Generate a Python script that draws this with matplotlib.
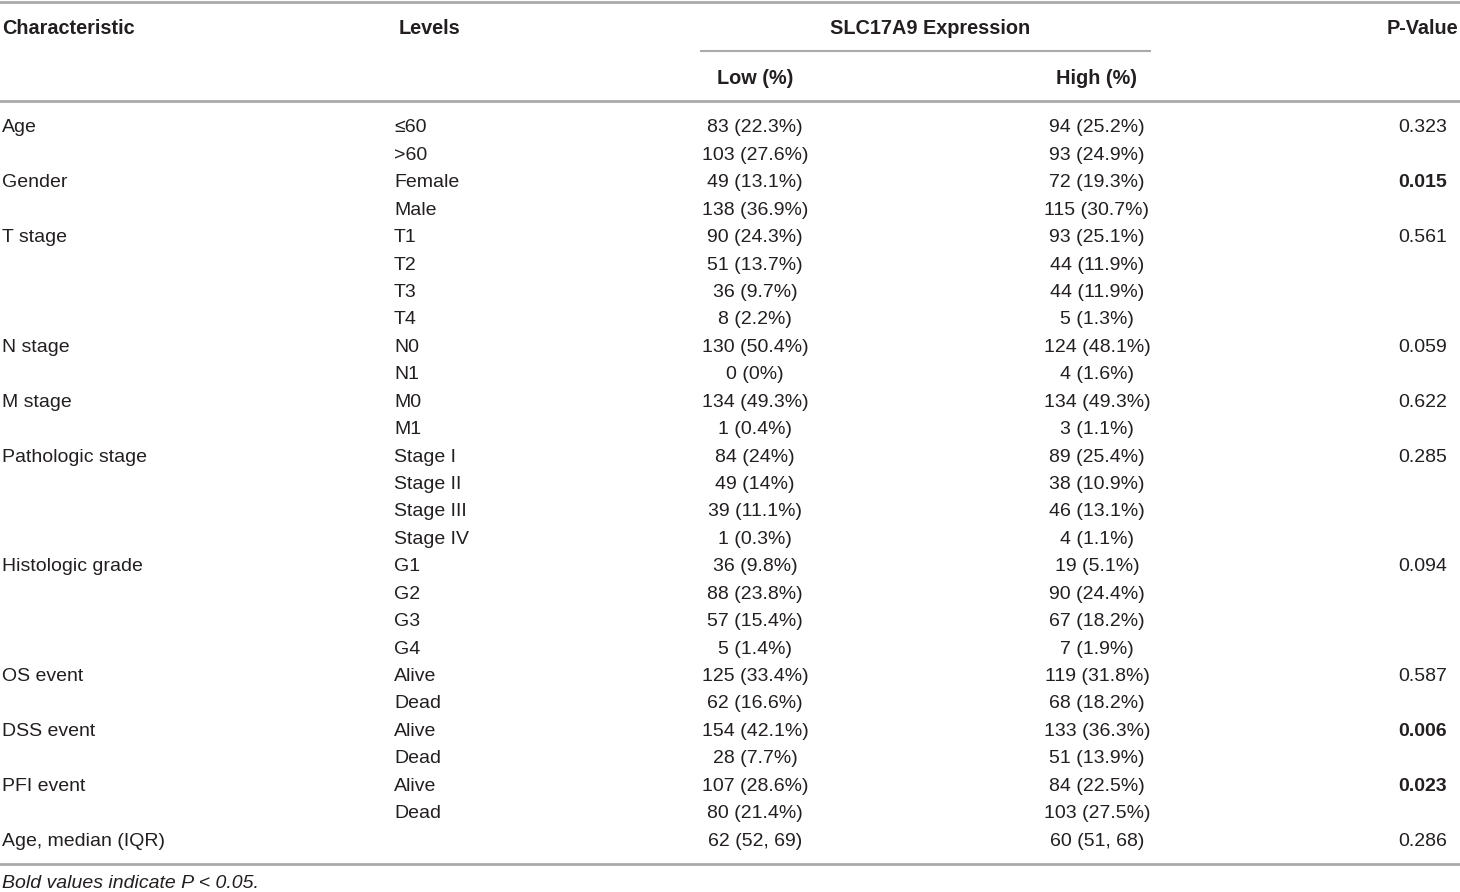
import matplotlib.pyplot as plt

plt.rcParams['font.family'] = ['Liberation Sans', 'DejaVu Sans']

characteristics = ['Age', '', 'Gender', '', 'T stage', '', '', '', 'N stage', '', 'M stage', '',
                   'Pathologic stage', '', '', '', 'Histologic grade', '', '', '', 'OS event', '',
                   'DSS event', '', 'PFI event', '', 'Age, median (IQR)']
levels = ['≤60', '>60', 'Female', 'Male', 'T1', 'T2', 'T3', 'T4', 'N0', 'N1', 'M0', 'M1',
          'Stage I', 'Stage II', 'Stage III', 'Stage IV', 'G1', 'G2', 'G3', 'G4',
          'Alive', 'Dead', 'Alive', 'Dead', 'Alive', 'Dead', '']
low = ['83 (22.3%)', '103 (27.6%)', '49 (13.1%)', '138 (36.9%)', '90 (24.3%)', '51 (13.7%)',
       '36 (9.7%)', '8 (2.2%)', '130 (50.4%)', '0 (0%)', '134 (49.3%)', '1 (0.4%)',
       '84 (24%)', '49 (14%)', '39 (11.1%)', '1 (0.3%)', '36 (9.8%)', '88 (23.8%)',
       '57 (15.4%)', '5 (1.4%)', '125 (33.4%)', '62 (16.6%)', '154 (42.1%)', '28 (7.7%)',
       '107 (28.6%)', '80 (21.4%)', '62 (52, 69)']
high = ['94 (25.2%)', '93 (24.9%)', '72 (19.3%)', '115 (30.7%)', '93 (25.1%)', '44 (11.9%)',
        '44 (11.9%)', '5 (1.3%)', '124 (48.1%)', '4 (1.6%)', '134 (49.3%)', '3 (1.1%)',
        '89 (25.4%)', '38 (10.9%)', '46 (13.1%)', '4 (1.1%)', '19 (5.1%)', '90 (24.4%)',
        '67 (18.2%)', '7 (1.9%)', '119 (31.8%)', '68 (18.2%)', '133 (36.3%)', '51 (13.9%)',
        '84 (22.5%)', '103 (27.5%)', '60 (51, 68)']
pvals = ['0.323', '', '0.015', '', '0.561', '', '', '', '0.059', '', '0.622', '',
         '0.285', '', '', '', '0.094', '', '', '', '0.587', '', '0.006', '', '0.023', '', '0.286']

W, H = 1460, 892
fig = plt.figure(figsize=(14.6, 8.92), dpi=100)
ax = fig.add_axes([0, 0, 1, 1])
ax.set_xlim(0, W)
ax.set_ylim(H, 0)
ax.axis('off')

fs = 14
hfs = 14.3
tc = '#231f20'
lc = '#aaaaaa'

# rules
ax.plot([0, W], [1.5, 1.5], color=lc, lw=2)
ax.plot([701, 1150], [51, 51], color=lc, lw=1.5)
ax.plot([0, W], [101, 101], color=lc, lw=2)
ax.plot([0, W], [864, 864], color=lc, lw=2)

# header
ax.text(2, 28, 'Characteristic', fontsize=hfs, fontweight='bold', color=tc, va='center', ha='left')
ax.text(399, 28, 'Levels', fontsize=hfs, fontweight='bold', color=tc, va='center', ha='left')
ax.text(930, 28, 'SLC17A9 Expression', fontsize=hfs, fontweight='bold', color=tc, va='center', ha='center')
ax.text(755, 78, 'Low (%)', fontsize=hfs, fontweight='bold', color=tc, va='center', ha='center')
ax.text(1097, 78, 'High (%)', fontsize=hfs, fontweight='bold', color=tc, va='center', ha='center')
ax.text(1458, 28, 'P-Value', fontsize=hfs, fontweight='bold', color=tc, va='center', ha='right')

y0, dy = 128, (841 - 128) / 26
for i in range(len(levels)):
    y = y0 + i * dy
    ax.text(2, y, characteristics[i], fontsize=fs, color=tc, va='center', ha='left')
    ax.text(394, y, levels[i], fontsize=fs, color=tc, va='center', ha='left')
    ax.text(755, y, low[i], fontsize=fs, color=tc, va='center', ha='center')
    ax.text(1097, y, high[i], fontsize=fs, color=tc, va='center', ha='center')
    bold = pvals[i] != '' and float(pvals[i]) < 0.05
    ax.text(1447, y, pvals[i], fontsize=fs, color=tc, va='center', ha='right',
            fontweight='bold' if bold else 'normal')

ax.text(2, 884, 'Bold values indicate P < 0.05.', fontsize=fs, style='italic',
        color=tc, va='center', ha='left')

fig.savefig('out.png', dpi=100)
